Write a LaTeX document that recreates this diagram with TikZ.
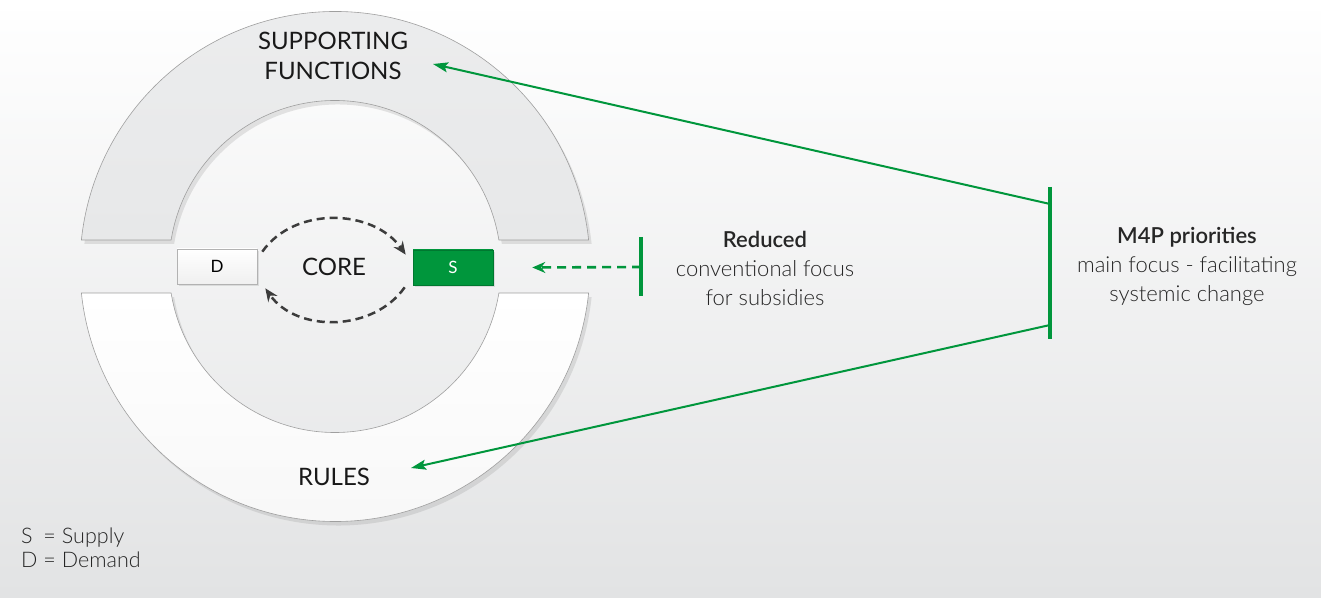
\documentclass[tikz,border=0pt]{standalone}
\usepackage{fontspec}
\setmainfont{Lato}
\newfontfamily\lightfont{Lato Light}
\newfontfamily\semifont{Lato Semibold}
\usepackage{tikz}
\usetikzlibrary{shadows,arrows.meta,positioning}

\definecolor{mfpgreen}{RGB}{0,150,60}
\definecolor{ringgray}{RGB}{231,232,233}
\definecolor{bggray}{RGB}{226,227,228}
\definecolor{dashgray}{RGB}{60,60,60}

\begin{document}
\begin{tikzpicture}[x=1pt, y=1pt,
  ring/.style={draw=gray!75, line width=0.6pt, drop shadow={shadow xshift=3pt, shadow yshift=-4pt, opacity=0.2}},
  dbox/.style={draw=gray!60, line width=0.6pt, top color=white, bottom color=gray!12, minimum width=80pt, minimum height=35pt, inner sep=0pt, font=\fontsize{17}{20}\selectfont, drop shadow={shadow xshift=2pt, shadow yshift=-2pt, opacity=0.2}},
  sbox/.style={dbox, draw=mfpgreen!80!black, fill=mfpgreen, top color=mfpgreen, bottom color=mfpgreen, text=white},
  ringlabel/.style={font=\fontsize{24}{30}\selectfont, align=center, text=black!90},
  sidetext/.style={font=\lightfont\fontsize{22}{29}\selectfont, align=center, text=black!85},
  coredash/.style={dashgray, line width=2.5pt, dash pattern=on 8pt off 5pt, -{Stealth[length=13pt, width=11pt]}},
  greendash/.style={mfpgreen, line width=2.6pt, dash pattern=on 9pt off 6pt, -{Stealth[length=13pt, width=11pt]}},
  greenline/.style={mfpgreen, line width=2pt, -{Stealth[length=15pt, width=10pt, inset=3pt]}},
  greenbar/.style={mfpgreen, line width=4pt}
]
%\draw [help lines, step=10pt](0,0) grid (1321,597);
\useasboundingbox (0,0) rectangle (1321,597);
\shade [top color=white, bottom color=bggray] (0,0) rectangle (1321,597);

% the two half rings
\begin{scope}[shift={(335,330.5)}]
\path [ring, top color=ringgray!80!white, bottom color=ringgray] (5.97:255pt) arc [start angle=5.97, end angle=174.03, radius=255pt] -- (170.81:166pt) arc [start angle=170.81, end angle=9.19, radius=166pt] -- cycle;
\path [ring, top color=white, bottom color=gray!6] (-5.97:255pt) arc [start angle=-5.97, end angle=-174.03, radius=255pt] -- (-170.81:166pt) arc [start angle=-170.81, end angle=-9.19, radius=166pt] -- cycle;
\end{scope}

\node [ringlabel] (supfun) at (333,541) {SUPPORTING\\FUNCTIONS};
\node [ringlabel] (rules) at (334,120) {RULES};
\node [ringlabel] (core) at (334,330) {CORE};
\node [dbox] (D) at (217,330.5) {D};
\node [sbox] (S) at (453,329.5) {S};

\draw [coredash] ([shift={(5pt,-3pt)}]D.north east) to [out=55, in=125] ([shift={(-7pt,-5pt)}]S.north west);
\draw [coredash] ([shift={(-8pt,-2pt)}]S.south west) to [out=-125, in=-55] ([shift={(8pt,-4pt)}]D.south east);

% reduced focus
\coordinate (redbar) at (641,330);
\draw [greenbar] ([yshift=30pt]redbar) -- ([yshift=-29pt]redbar);
\draw [greendash] (redbar) -- ([xshift=39pt]S.east);
\node [sidetext] (reduced) at (765,329) {{\semifont Reduced}\\conventional focus\\for subsidies};

% M4P priorities
\coordinate (m4ptop) at (1050,393);
\coordinate (m4pbot) at (1050,272);
\coordinate (suptip) at (433,533);
\coordinate (ruletip) at (411,129);
\draw [greenbar] (1050,410) -- (1050,258);
\draw [greenline] (m4ptop) -- (suptip);
\draw [greenline] (m4pbot) -- (ruletip);
\node [sidetext] (m4p) at (1187,331) {{\semifont M4P priorities}\\main focus - facilitating\\systemic change};

% legend
\node [anchor=west, font=\lightfont\fontsize{21.5}{24}\selectfont, text=black!85, inner sep=0pt] (legend) at (21,46) {\begin{tabular}{@{}l@{\;=\;}l@{}}S & Supply\\D & Demand\end{tabular}};
\end{tikzpicture}
\end{document}
